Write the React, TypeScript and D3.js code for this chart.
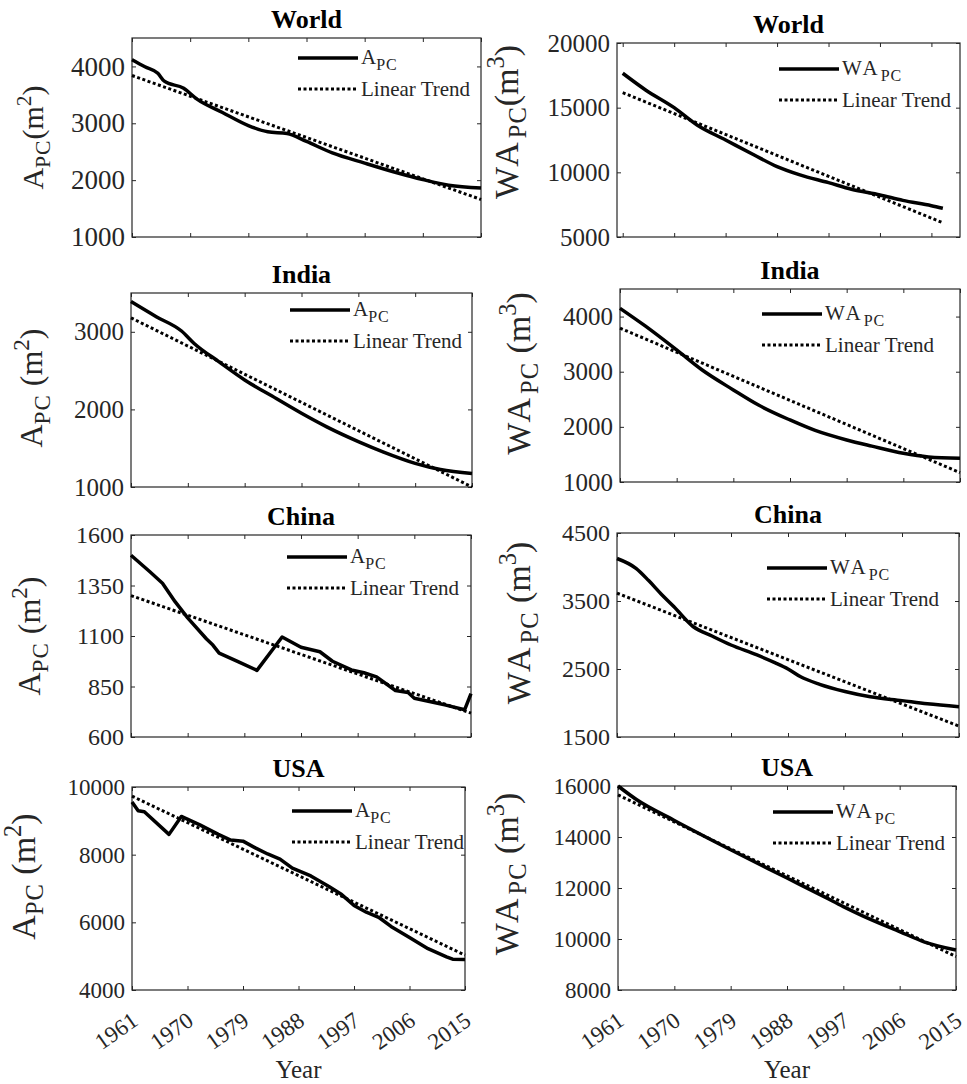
import React, { useEffect, useRef } from "react";
import * as d3 from "d3";

const FONT = "'Liberation Serif', 'Times New Roman', serif";

// x tick labels (shared)
const xTickYears = [1961, 1970, 1979, 1988, 1997, 2006, 2015];

// World, area per capita (m^2)
const worldAYears = [1961, 1963, 1965, 1966, 1969, 1971, 1975, 1979, 1982, 1985, 1988, 1992, 1997, 2002, 2006, 2010, 2015];
const worldAValues = [4120, 3995, 3880, 3740, 3615, 3430, 3190, 2960, 2850, 2820, 2680, 2480, 2300, 2130, 2010, 1910, 1860];
const worldATrend = [3840, 1660];

// World, water per capita (m^3)
const worldWAYears = [1961, 1965, 1970, 1974, 1979, 1984, 1988, 1992, 1997, 2001, 2006, 2010, 2015, 2017];
const worldWAValues = [17660, 16370, 15000, 13660, 12500, 11340, 10440, 9800, 9200, 8690, 8250, 7830, 7420, 7220];
const worldWATrend = [16160, 6100];

// India
const indiaAYears = [1961, 1965, 1969, 1971, 1975, 1979, 1984, 1988, 1992, 1997, 2001, 2006, 2010, 2015];
const indiaAValues = [3390, 3195, 3010, 2850, 2610, 2380, 2140, 1950, 1775, 1585, 1450, 1305, 1225, 1175];
const indiaATrend = [3180, 1000];

const indiaWAYears = [1961, 1965, 1970, 1974, 1979, 1983, 1988, 1992, 1997, 2001, 2006, 2010, 2015];
const indiaWAValues = [4150, 3830, 3395, 3035, 2670, 2395, 2125, 1935, 1762, 1650, 1520, 1455, 1430];
const indiaWATrend = [3790, 1170];

// China
const chinaAYears = [1961, 1964, 1966, 1968, 1970, 1973, 1974, 1975, 1978, 1981, 1985, 1988, 1991, 1993, 1996, 1998, 2000, 2003, 2005, 2006, 2011, 2014, 2015];
const chinaAValues = [1500, 1418, 1361, 1270, 1190, 1085, 1055, 1015, 973, 930, 1095, 1044, 1022, 975, 932, 918, 898, 830, 820, 792, 758, 735, 815];
const chinaATrend = [1300, 718];

const chinaWAYears = [1961, 1964, 1966, 1968, 1970, 1973, 1976, 1979, 1983, 1986, 1988, 1990, 1993, 1997, 2001, 2006, 2010, 2015];
const chinaWAValues = [4125, 3980, 3800, 3600, 3416, 3125, 2985, 2853, 2710, 2590, 2500, 2385, 2275, 2170, 2092, 2035, 1988, 1946];
const chinaWATrend = [3615, 1660];

// USA
const usaAYears = [1961, 1962, 1963, 1967, 1969, 1972, 1975, 1977, 1979, 1981, 1983, 1985, 1987, 1990, 1993, 1995, 1997, 1999, 2001, 2003, 2006, 2009, 2012, 2013, 2015];
const usaAValues = [9560, 9300, 9270, 8600, 9130, 8880, 8600, 8430, 8400, 8200, 8020, 7870, 7600, 7370, 7050, 6820, 6500, 6300, 6150, 5880, 5550, 5220, 4980, 4910, 4900];
const usaATrend = [9730, 5030];

const usaWAYears = [1961, 1964, 1970, 1979, 1988, 1994, 1997, 2000, 2006, 2010, 2015];
const usaWAValues = [16000, 15460, 14650, 13500, 12390, 11650, 11270, 10920, 10290, 9880, 9570];
const usaWATrend = [15650, 9310];

const panels = [
  { title: "World", name: "A", pow: "2", gap: false, years: worldAYears, values: worldAValues, trend: worldATrend, trendYears: [1961, 2015], xDomain: [1961, 2015], yDomain: [1000, 4500], yTicks: [1000, 2000, 3000, 4000], smooth: true },
  { title: "World", name: "WA", pow: "3", gap: false, years: worldWAYears, values: worldWAValues, trend: worldWATrend, trendYears: [1961, 2017], xDomain: [1960, 2020], yDomain: [5000, 20000], yTicks: [5000, 10000, 15000, 20000], smooth: true },
  { title: "India", name: "A", pow: "2", gap: true, years: indiaAYears, values: indiaAValues, trend: indiaATrend, trendYears: [1961, 2015], xDomain: [1961, 2015], yDomain: [1000, 3500], yTicks: [1000, 2000, 3000], smooth: true },
  { title: "India", name: "WA", pow: "3", gap: true, years: indiaWAYears, values: indiaWAValues, trend: indiaWATrend, trendYears: [1961, 2015], xDomain: [1961, 2015], yDomain: [1000, 4500], yTicks: [1000, 2000, 3000, 4000], smooth: true },
  { title: "China", name: "A", pow: "2", gap: true, years: chinaAYears, values: chinaAValues, trend: chinaATrend, trendYears: [1961, 2015], xDomain: [1961, 2015], yDomain: [600, 1600], yTicks: [600, 850, 1100, 1350, 1600], smooth: false },
  { title: "China", name: "WA", pow: "3", gap: true, years: chinaWAYears, values: chinaWAValues, trend: chinaWATrend, trendYears: [1961, 2015], xDomain: [1961, 2015], yDomain: [1500, 4500], yTicks: [1500, 2500, 3500, 4500], smooth: true },
  { title: "USA", name: "A", pow: "2", gap: true, years: usaAYears, values: usaAValues, trend: usaATrend, trendYears: [1961, 2015], xDomain: [1961, 2015], yDomain: [4000, 10000], yTicks: [4000, 6000, 8000, 10000], smooth: false },
  { title: "USA", name: "WA", pow: "3", gap: true, years: usaWAYears, values: usaWAValues, trend: usaWATrend, trendYears: [1961, 2015], xDomain: [1961, 2015], yDomain: [8000, 16000], yTicks: [8000, 10000, 12000, 14000, 16000], smooth: true },
];

// axes boxes, legend anchors and font sizes, in page pixels
const layouts = [
  { x0: 132, x1: 481, y0: 38, y1: 237, legendX: 298, legendY: 58, labelX: 43, labelDy: 0, tickFont: 27, labelFont: 30 },
  { x0: 617, x1: 960, y0: 43, y1: 237, legendX: 779, legendY: 69, labelX: 518, labelDy: -18, tickFont: 25, labelFont: 34 },
  { x0: 131, x1: 472, y0: 293, y1: 487, legendX: 290, legendY: 310, labelX: 42, labelDy: -2, tickFont: 25, labelFont: 32 },
  { x0: 620, x1: 960, y0: 289, y1: 482, legendX: 762, legendY: 314, labelX: 530, labelDy: -12, tickFont: 25, labelFont: 34 },
  { x0: 131, x1: 471, y0: 535, y1: 737, legendX: 287, legendY: 557, labelX: 40, labelDy: 0, tickFont: 24, labelFont: 32 },
  { x0: 617, x1: 959, y0: 533, y1: 737, legendX: 767, legendY: 568, labelX: 530, labelDy: -12, tickFont: 24, labelFont: 34 },
  { x0: 132, x1: 465, y0: 787, y1: 990, legendX: 292, legendY: 811, labelX: 35, labelDy: -12, tickFont: 23, labelFont: 34 },
  { x0: 618, x1: 956, y0: 786, y1: 990, legendX: 773, legendY: 812, labelX: 518, labelDy: -14, tickFont: 23, labelFont: 34 },
];

const INK = "#262626";

const App = () => {
  const svgRef = useRef(null);

  useEffect(() => {
    const svg = d3.select(svgRef.current);
    svg.selectAll("*").remove();

    panels.forEach((p, i) => {
      const l = layouts[i];
      const showX = i >= 6;
      const g = svg.append("g").attr("font-family", FONT);

      const x = d3.scaleLinear().domain(p.xDomain).range([l.x0, l.x1]);
      const y = d3.scaleLinear().domain(p.yDomain).range([l.y1, l.y0]);

      // title
      g.append("text")
        .attr("x", (l.x0 + l.x1) / 2)
        .attr("y", l.y0 - 10)
        .attr("text-anchor", "middle")
        .attr("font-weight", "bold")
        .attr("font-size", 26)
        .attr("fill", "#000")
        .text(p.title);

      // axes (ticks point inward, like MATLAB)
      const styleAxis = (sel, fs) => {
        sel.attr("font-family", FONT).attr("font-size", fs);
        sel.select(".domain").remove();
        sel.selectAll(".tick line").attr("stroke", INK).attr("stroke-width", 1);
        sel.selectAll(".tick text").attr("fill", INK);
      };

      g.append("g")
        .attr("transform", `translate(${l.x0},0)`)
        .call(d3.axisLeft(y).tickValues(p.yTicks).tickSize(-4).tickPadding(7).tickFormat(d3.format("d")))
        .call(styleAxis, l.tickFont);

      g.append("g")
        .attr("transform", `translate(${l.x1},0)`)
        .call(d3.axisRight(y).tickValues(p.yTicks).tickSize(-4).tickFormat(() => ""))
        .call(styleAxis, l.tickFont);

      g.append("g")
        .attr("transform", `translate(0,${l.y0})`)
        .call(d3.axisTop(x).tickValues(xTickYears).tickSize(-4).tickFormat(() => ""))
        .call(styleAxis, l.tickFont);

      const bottom = g.append("g")
        .attr("transform", `translate(0,${l.y1})`)
        .call(d3.axisBottom(x).tickValues(xTickYears).tickSize(-4).tickFormat(showX ? d3.format("d") : () => ""))
        .call(styleAxis, 23);

      if (showX) {
        bottom.selectAll(".tick text")
          .attr("x", 0)
          .attr("y", 0)
          .attr("dy", 0)
          .attr("text-anchor", "end")
          .attr("transform", "translate(7,34) rotate(-35)");

        g.append("text")
          .attr("x", (l.x0 + l.x1) / 2)
          .attr("y", 1078)
          .attr("text-anchor", "middle")
          .attr("font-size", 25)
          .attr("fill", INK)
          .text("Year");
      }

      // box
      g.append("rect")
        .attr("x", l.x0)
        .attr("y", l.y0)
        .attr("width", l.x1 - l.x0)
        .attr("height", l.y1 - l.y0)
        .attr("fill", "none")
        .attr("stroke", INK)
        .attr("stroke-width", 1.2);

      // y label
      const lf = l.labelFont;
      const yl = g.append("text")
        .attr("transform", `translate(${l.labelX},${(l.y0 + l.y1) / 2 + l.labelDy}) rotate(-90)`)
        .attr("text-anchor", "middle")
        .attr("font-size", lf)
        .attr("fill", INK);
      yl.append("tspan").attr("letter-spacing", p.name === "WA" ? 4 : 0).text(p.name);
      yl.append("tspan").attr("dy", lf * 0.24).attr("font-size", lf * 0.72).attr("letter-spacing", 1).text("PC");
      yl.append("tspan").attr("dy", -lf * 0.24).text((p.gap ? " " : "") + "(m");
      yl.append("tspan").attr("dy", -lf * 0.4).attr("font-size", lf * 0.72).text(p.pow);
      yl.append("tspan").attr("dy", lf * 0.4).text(")");

      // series
      const series = p.years.map((yr, k) => ({ year: yr, value: p.values[k] }));
      const trend = p.trendYears.map((yr, k) => ({ year: yr, value: p.trend[k] }));

      const line = d3.line()
        .x((d) => x(d.year))
        .y((d) => y(d.value))
        .curve(p.smooth ? d3.curveMonotoneX : d3.curveLinear);

      g.append("path")
        .datum(trend)
        .attr("fill", "none")
        .attr("stroke", "#000")
        .attr("stroke-width", 3)
        .attr("stroke-dasharray", "3,2.5")
        .attr("d", line);

      g.append("path")
        .datum(series)
        .attr("fill", "none")
        .attr("stroke", "#000")
        .attr("stroke-width", 3.5)
        .attr("stroke-linejoin", "round")
        .attr("d", line);

      // legend
      const lg = g.append("g").attr("font-size", 21).attr("fill", INK);
      lg.append("line")
        .attr("x1", l.legendX).attr("x2", l.legendX + 60)
        .attr("y1", l.legendY).attr("y2", l.legendY)
        .attr("stroke", "#000").attr("stroke-width", 3.5);
      const t1 = lg.append("text").attr("x", l.legendX + 63).attr("y", l.legendY + 6);
      t1.append("tspan").attr("letter-spacing", p.name === "WA" ? 3 : 0).text(p.name);
      t1.append("tspan").attr("dy", 6).attr("font-size", 16).attr("letter-spacing", 1).text("PC");

      lg.append("line")
        .attr("x1", l.legendX).attr("x2", l.legendX + 60)
        .attr("y1", l.legendY + 31).attr("y2", l.legendY + 31)
        .attr("stroke", "#000").attr("stroke-width", 3)
        .attr("stroke-dasharray", "3,2.5");
      lg.append("text")
        .attr("x", l.legendX + 63)
        .attr("y", l.legendY + 38)
        .text("Linear Trend");
    });
  }, []);

  return (
    <div style={{ position: "absolute", left: 0, top: 0 }}>
      <svg ref={svgRef} width={967} height={1084} style={{ display: "block", background: "#fff" }}></svg>
    </div>
  );
};

export default App;
